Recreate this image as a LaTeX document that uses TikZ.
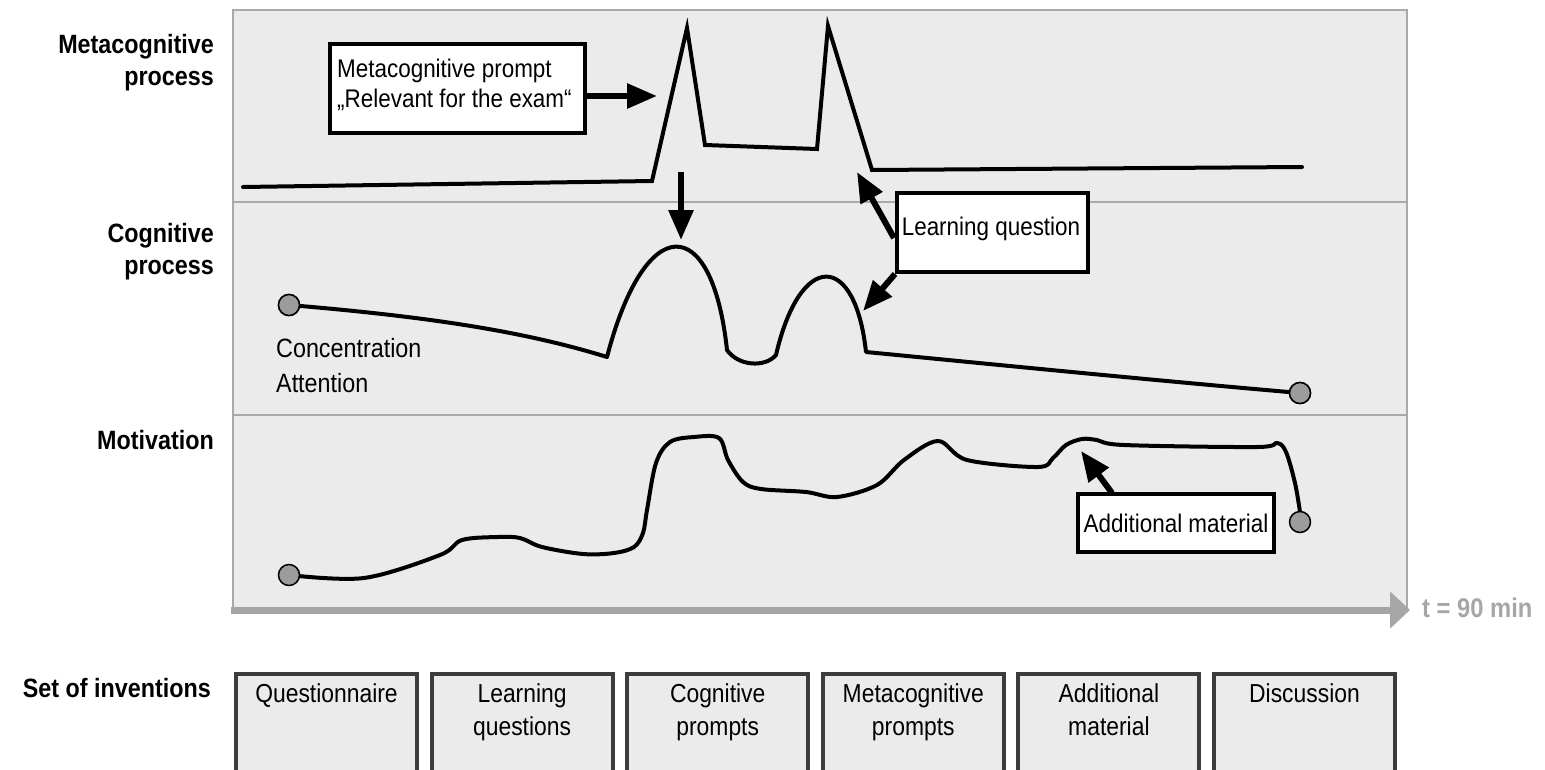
\documentclass[tikz,border=0pt]{standalone}
\usepackage{fontspec}
\setmainfont{Liberation Sans}[FakeStretch=0.88]
\usetikzlibrary{arrows.meta}
\definecolor{panel}{HTML}{EBEBEB}
\definecolor{frame}{HTML}{A9A9A9}
\definecolor{dotgray}{HTML}{9C9C9C}
\definecolor{boxframe}{HTML}{3C3C3C}
\definecolor{axisgray}{HTML}{A6A6A6}
\begin{document}
\begin{tikzpicture}[x=1pt,y=-1pt,
  lbl/.style={font=\fontsize{26.5}{32}\selectfont\bfseries, align=right, anchor=east, inner sep=0},
  txt/.style={font=\fontsize{25.5}{30}\selectfont, inner sep=0},
  callout/.style={draw=black, line width=4pt, fill=white, inner sep=0},
  curve/.style={line width=4pt, line join=round, line cap=round},
  metacurve/.style={line width=4pt, line join=miter, line cap=round},
  dot/.style={circle, draw=black, line width=1.5pt, fill=dotgray, minimum size=21pt, inner sep=0},
  bigarrow/.style={line width=6pt, -{Triangle[length=30pt,width=24pt]}},
  ibox/.style={draw=boxframe, line width=4pt, fill=panel, minimum width=181pt, minimum height=140pt, anchor=north west, inner sep=0},
  ilabel/.style={font=\fontsize{26}{33}\selectfont, align=center, anchor=north, inner sep=0}
]
\useasboundingbox (0,0) rectangle (1545,769);
\clip (0,0) rectangle (1545,769);

% panel
\fill[panel] (233,10) rectangle (1407,609);
\draw[frame, line width=2.5pt] (233,609) -- (233,10) -- (1407,10) -- (1407,609);
\draw[frame, line width=2pt] (233,202) -- (1407,202);
\draw[frame, line width=2pt] (233,415) -- (1407,415);

% time axis
\coordinate (ax0) at (231,610);
\coordinate (ax1) at (1410,610);
\draw[axisgray, line width=7pt, -{Triangle[length=20pt,width=36pt]}] (ax0) -- (ax1);
\node[font=\fontsize{27}{30}\selectfont\bfseries, text=axisgray, anchor=west, inner sep=0] (tlab) at (1422,608) {t = 90 min};

% left labels
\node[lbl] (l1) at (214,63) {Metacognitive\\process};
\node[lbl] (l2) at (214,252) {Cognitive\\process};
\node[lbl] (l3) at (214,440) {Motivation};
\node[lbl] (l4) at (211,688) {Set of inventions};

% metacognitive curve
\draw[metacurve] (243,187) -- (652,181) -- (687,28) -- (705,145) -- (817,149) -- (828,26) -- (872,170) -- (1302,167);

% cognitive curve
\node[dot] (c1) at (289,305) {};
\node[dot] (c2) at (1300,393) {};
\draw[curve] (c1.center) .. controls (420,316) and (520,330) .. (607,357)
  .. controls (645,211) and (712,211) .. (727,350)
  .. controls (738,366) and (765,368) .. (776,355)
  .. controls (800,251) and (855,251) .. (866,352)
  .. controls (1000,365) and (1150,380) .. (c2.center);
\node[dot] at (c1) {};
\node[dot] at (c2) {};
\node[txt, anchor=west, align=left, font=\fontsize{26.5}{35}\selectfont] (conc) at (276,366) {Concentration\\Attention};

% motivation curve
\draw[curve] plot[smooth, tension=0.55] coordinates {(289,575) (364,578) (440,555) (462,540) (498,537) (520,538) (542,547) (583,554) (614,553) (634,547) (643,533) (647,510) (656,463) (670,442) (694,437) (719,438) (728,460) (743,482) (761,489) (806,492) (837,497) (877,485) (904,460) (938,441) (967,460) (1038,467) (1053,458) (1066,445) (1082,439) (1097,440) (1124,445) (1257,447) (1277,443) (1286,452) (1295,483) (1300,512)};
\node[dot] (m1) at (289,575) {};
\node[dot] (m2) at (1300,522) {};

% callouts
\node[callout, minimum width=255pt, minimum height=89pt] (mp) at (457.5,88.5) {};
\node[txt, anchor=west, align=left] (mpt) at (337,85) {Metacognitive prompt\\„Relevant for the exam“};
\coordinate (mptip) at (657,96);
\draw[bigarrow] (mp.east |- mptip) -- (mptip);
\coordinate (dtail) at (681,172);
\coordinate (dtip) at (681,240);
\draw[bigarrow] (dtail) -- (dtip);

\node[callout, minimum width=191pt, minimum height=79pt, anchor=north west] (lq) at (895,191) {};
\node[txt] (lqt) at (991,229) {Learning question};
\coordinate (lqa) at (857,172);
\coordinate (lqb) at (863,311);
\draw[bigarrow] (894,238) -- (lqa);
\draw[bigarrow] (lq.south west) -- (lqb);

\node[callout, minimum width=196pt, minimum height=58pt] (am) at (1176,523) {};
\node[txt] (amt) at (1176,523) {Additional material};
\coordinate (amtip) at (1081,451);
\draw[bigarrow] (1112,493) -- (amtip);

% set of interventions boxes
\foreach \i/\t in {0/Questionnaire, 1/{Learning\\questions}, 2/{Cognitive\\prompts}, 3/{Metacognitive\\prompts}, 4/{Additional\\material}, 5/Discussion}{
  \node[ibox] (b\i) at ({234+195.6*\i},672) {};
  \node[ilabel] (bt\i) at ([yshift=-11pt]b\i.north) {\t};
}
\end{tikzpicture}
\end{document}
